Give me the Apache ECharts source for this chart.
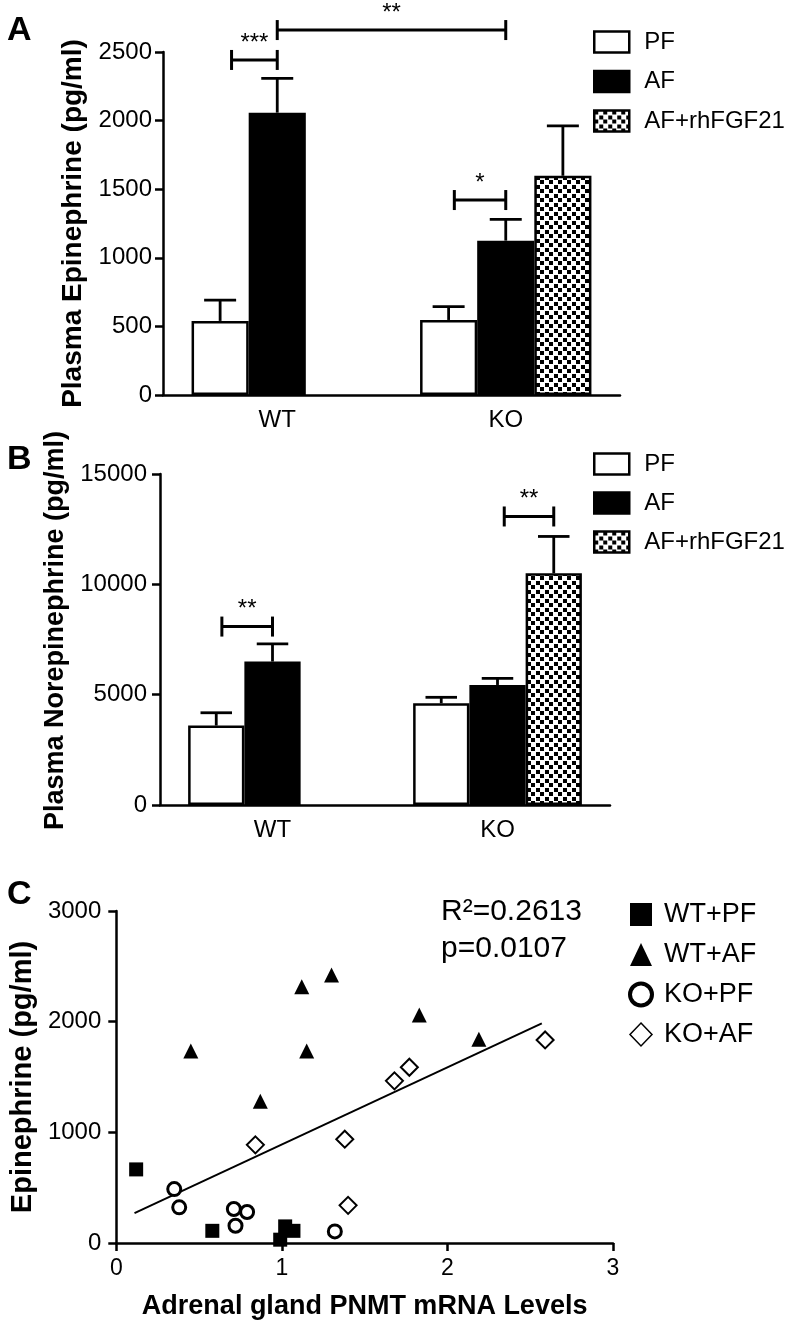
<!DOCTYPE html>
<html>
<head>
<meta charset="utf-8">
<script src="https://cdn.jsdelivr.net/npm/echarts@6/dist/echarts.min.js"></script>
<style>html,body{margin:0;padding:0;background:#fff;}#c{width:788px;height:1325px;}</style>
</head>
<body>
<div id="c"></div>
<script>
// ---------- DATA ----------
const groups = ['WT', 'KO'];
const barNames = ['PF', 'AF', 'AF+rhFGF21'];

// Panel A: plasma epinephrine (pg/ml), mean and SEM
const epiPF = [540, 547];
const epiAF = [2058, 1125];
const epiFGF = [null, 1598];
const epiPFsem = [152, 97];
const epiAFsem = [250, 155];
const epiFGFsem = [null, 363];

// Panel B: plasma norepinephrine (pg/ml), mean and SEM
const norPF = [3600, 4610];
const norAF = [6500, 5440];
const norFGF = [null, 10500];
const norPFsem = [580, 270];
const norAFsem = [800, 300];
const norFGFsem = [null, 1670];

// Significance brackets: [group1, barOffset1, group2, barOffset2, yValue]
const sigA = [[0, -0.8, 0, 0, 2442], [0, 0, 1, 0, 2660], [1, -0.9, 1, 0, 1421]];
const sigAlabels = ['***', '**', '*'];
const sigB = [[0, -0.9, 0, 0, 8086], [1, 0.12, 1, 1, 13075]];
const sigBlabels = ['**', '**'];

// Panel C: scatter (PNMT mRNA, epinephrine)
const wtPF = [[0.12, 665], [0.58, 110], [0.99, 30], [1.02, 150], [1.07, 110]];
const wtAF = [[0.45, 1735], [0.87, 1280], [1.12, 2316], [1.15, 1735], [1.30, 2421], [1.83, 2060], [2.19, 1841]];
const koPF = [[0.35, 487], [0.38, 322], [0.71, 307], [0.79, 280], [0.72, 156], [1.32, 105]];
const koAF = [[0.84, 887], [1.38, 938], [1.40, 340], [1.68, 1465], [1.77, 1588], [2.59, 1835]];
const fitLine = [[0.11, 270], [2.57, 1985]];

const yTicksA = [0, 2500, 500];
const yTicksB = [0, 15000, 5000];
const xTicksC = [0, 3, 1];
const yTicksC = [0, 3000, 1000];

// ---------- STYLE HELPERS ----------
const FF = '"Liberation Sans", Arial, sans-serif';
const BLACK = '#000';

const pc = document.createElement('canvas');
pc.width = 9; pc.height = 9;
const g = pc.getContext('2d');
g.fillStyle = '#fff'; g.fillRect(0, 0, 9, 9);
g.fillStyle = '#000'; g.fillRect(0, 0, 4, 4); g.fillRect(5, 5, 4, 4);
const pattern = { image: pc, repeat: 'repeat' };

const barFills = ['#fff', '#000', pattern];

function catAxis(gi) {
  return {
    type: 'category', gridIndex: gi, data: groups, boundaryGap: true,
    axisLine: { lineStyle: { color: BLACK, width: 2.5 } },
    axisTick: { alignWithLabel: true, length: 8, lineStyle: { color: BLACK, width: 2.5 } },
    axisLabel: { color: BLACK, fontSize: 24, fontFamily: FF, margin: 13 },
    splitLine: { show: false }
  };
}
function valAxis(gi, ticks, name, gap, lblMargin, nameSize, namePad) {
  return {
    type: 'value', gridIndex: gi, min: ticks[0], max: ticks[1], interval: ticks[2],
    axisLine: { show: true, lineStyle: { color: BLACK, width: 2.5 } },
    axisTick: { show: true, length: 8, lineStyle: { color: BLACK, width: 2.5 } },
    axisLabel: { color: BLACK, fontSize: 24, fontFamily: FF, margin: lblMargin, formatter: v => String(v) },
    splitLine: { show: false },
    name: name, nameLocation: 'middle', nameGap: gap,
    nameTextStyle: { color: BLACK, fontSize: nameSize, fontWeight: 'bold', fontFamily: FF, padding: namePad }
  };
}

function barSeries(gi, vals) {
  return vals.map((v, i) => ({
    type: 'bar', name: barNames[i], xAxisIndex: gi, yAxisIndex: gi, data: v,
    barGap: '0%', barCategoryGap: '25%',
    itemStyle: { color: barFills[i], borderColor: BLACK, borderWidth: 2.5 },
    emphasis: { disabled: true }, z: 2
  }));
}

function errData(means, sems) {
  const out = [];
  means.forEach((m, bi) => m.forEach((v, ci) => {
    if (v != null) out.push([ci, v, sems[bi][ci], bi]);
  }));
  return out;
}
function errRender(params, api) {
  const ci = api.value(0), mean = api.value(1), sem = api.value(2), bi = api.value(3);
  const band = api.size([1, 0])[0];
  const bw = band * 0.75 / 3;
  const c = api.coord([ci, mean]);
  const t = api.coord([ci, mean + sem]);
  const x = c[0] + (bi - 1) * bw;
  const half = bw * 0.28;
  const st = { stroke: BLACK, lineWidth: 2.8 };
  return { type: 'group', children: [
    { type: 'line', shape: { x1: x, y1: c[1], x2: x, y2: t[1] }, style: st },
    { type: 'line', shape: { x1: x - half, y1: t[1], x2: x + half, y2: t[1] }, style: st }
  ] };
}
function errSeries(gi, means, sems) {
  return { type: 'custom', xAxisIndex: gi, yAxisIndex: gi, data: errData(means, sems),
    renderItem: errRender, encode: { x: 0, y: 1 }, z: 3, silent: true };
}
function sigSeries(gi, data, labels) {
  return { type: 'custom', xAxisIndex: gi, yAxisIndex: gi, data: data, z: 4, silent: true,
    encode: { x: 0, y: 4 },
    renderItem: function (params, api) {
      const band = api.size([1, 0])[0];
      const bw = band * 0.75 / 3;
      const p1 = api.coord([api.value(0), api.value(4)]);
      const p2 = api.coord([api.value(2), api.value(4)]);
      const x1 = p1[0] + api.value(1) * bw, x2 = p2[0] + api.value(3) * bw, y = p1[1];
      const st = { stroke: BLACK, lineWidth: 3 };
      return { type: 'group', children: [
        { type: 'line', shape: { x1: x1, y1: y, x2: x2, y2: y }, style: st },
        { type: 'line', shape: { x1: x1, y1: y - 10, x2: x1, y2: y + 10 }, style: st },
        { type: 'line', shape: { x1: x2, y1: y - 10, x2: x2, y2: y + 10 }, style: st },
        { type: 'text', style: { text: labels[params.dataIndex], x: (x1 + x2) / 2, y: y - 17,
          align: 'center', verticalAlign: 'middle', fontSize: 24, fontFamily: FF, fill: BLACK } }
      ] };
    } };
}

const legendText = { color: BLACK, fontSize: 24, fontFamily: FF, padding: [0, 0, 0, 10], lineHeight: 21 };

const option = {
  backgroundColor: '#fff',
  animation: false,
  title: [
    { text: 'A', left: 2, top: 9, textStyle: { fontSize: 34, fontWeight: 'bold', fontFamily: FF, color: BLACK } },
    { text: 'B', left: 2, top: 438, textStyle: { fontSize: 34, fontWeight: 'bold', fontFamily: FF, color: BLACK } },
    { text: 'C', left: 2, top: 873, textStyle: { fontSize: 34, fontWeight: 'bold', fontFamily: FF, color: BLACK } }
  ],
  grid: [
    { left: 163, top: 52, width: 457, height: 343 },
    { left: 160, top: 474, width: 450, height: 331 },
    { left: 115, top: 911, width: 498, height: 332 }
  ],
  legend: [
    { data: barNames, orient: 'vertical', left: 593, top: 30, padding: 0, itemWidth: 35, itemHeight: 21, itemGap: 15.5,
      icon: 'rect', textStyle: legendText, itemStyle: { borderColor: BLACK, borderWidth: 2.5 }, selectedMode: false },
    { data: barNames, orient: 'vertical', left: 593, top: 452, padding: 0, itemWidth: 35, itemHeight: 21, itemGap: 15,
      icon: 'rect', textStyle: legendText, itemStyle: { borderColor: BLACK, borderWidth: 2.5 }, selectedMode: false },
    { data: [
        { name: 'WT+PF', icon: 'rect' },
        { name: 'WT+AF', icon: 'triangle' },
        { name: 'KO+PF', icon: 'circle', itemStyle: { borderWidth: 4 } },
        { name: 'KO+AF', icon: 'diamond', itemStyle: { borderWidth: 1.5 } }
      ],
      orient: 'vertical', left: 628, top: 901, padding: 0, itemWidth: 22, itemHeight: 23, itemGap: 13,
      textStyle: { color: BLACK, fontSize: 27, fontFamily: FF, padding: [0, 0, 0, 7], lineHeight: 23 },
      selectedMode: false }
  ],
  xAxis: [
    catAxis(0), catAxis(1),
    { type: 'value', gridIndex: 2, min: xTicksC[0], max: xTicksC[1], interval: xTicksC[2],
      axisLine: { lineStyle: { color: BLACK, width: 2.5 } },
      axisTick: { show: true, length: 8, lineStyle: { color: BLACK, width: 2.5 } },
      axisLabel: { color: BLACK, fontSize: 23, fontFamily: FF, margin: 14 },
      splitLine: { show: false },
      name: 'Adrenal gland PNMT mRNA Levels', nameLocation: 'middle', nameGap: 50,
      nameTextStyle: { color: BLACK, fontSize: 27, fontWeight: 'bold', fontFamily: FF } }
  ],
  yAxis: [
    valAxis(0, yTicksA, 'Plasma Epinephrine (pg/ml)', 69, 11, 28, 0),
    valAxis(1, yTicksB, 'Plasma Norepinephrine (pg/ml)', 80, 13, 27, [0, 0, 0, 18]),
    valAxis(2, yTicksC, 'Epinephrine (pg/ml)', 76, 15, 29, 0)
  ],
  graphic: [
    { type: 'text', left: 441, top: 893, style: { text: 'R²=0.2613\np=0.0107', fontSize: 30, lineHeight: 37, fontFamily: FF, fill: BLACK } }
  ],
  series: [
    ...barSeries(0, [epiPF, epiAF, epiFGF]),
    errSeries(0, [epiPF, epiAF, epiFGF], [epiPFsem, epiAFsem, epiFGFsem]),
    sigSeries(0, sigA, sigAlabels),
    ...barSeries(1, [norPF, norAF, norFGF]),
    errSeries(1, [norPF, norAF, norFGF], [norPFsem, norAFsem, norFGFsem]),
    sigSeries(1, sigB, sigBlabels),
    { type: 'line', name: 'fit', xAxisIndex: 2, yAxisIndex: 2, data: fitLine, symbol: 'none',
      lineStyle: { color: BLACK, width: 2 }, z: 2, silent: true },
    { type: 'scatter', name: 'WT+PF', xAxisIndex: 2, yAxisIndex: 2, data: wtPF, symbol: 'rect', symbolSize: 14,
      itemStyle: { color: BLACK, borderColor: BLACK, borderWidth: 0, opacity: 1 }, z: 3 },
    { type: 'scatter', name: 'WT+AF', xAxisIndex: 2, yAxisIndex: 2, data: wtAF, symbol: 'triangle', symbolSize: 15,
      itemStyle: { color: BLACK, borderColor: BLACK, borderWidth: 0, opacity: 1 }, z: 3 },
    { type: 'scatter', name: 'KO+PF', xAxisIndex: 2, yAxisIndex: 2, data: koPF, symbol: 'circle', symbolSize: 13,
      itemStyle: { color: '#fff', borderColor: BLACK, borderWidth: 3, opacity: 1 }, z: 3 },
    { type: 'scatter', name: 'KO+AF', xAxisIndex: 2, yAxisIndex: 2, data: koAF, symbol: 'diamond', symbolSize: [17, 17],
      itemStyle: { color: '#fff', borderColor: BLACK, borderWidth: 2, opacity: 1 }, z: 3 }
  ]
};

const chart = echarts.init(document.getElementById('c'), null, { renderer: 'canvas' });
chart.setOption(option);
</script>
</body>
</html>
